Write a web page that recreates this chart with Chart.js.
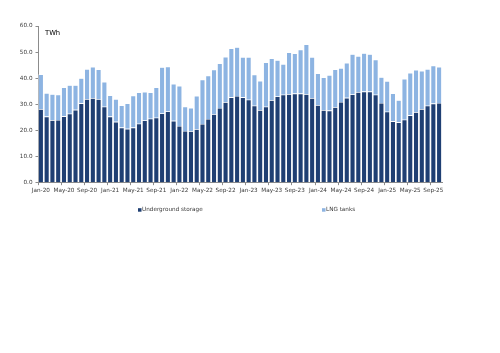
<!DOCTYPE html>
<html><head><meta charset="utf-8">
<script src="https://cdn.jsdelivr.net/npm/chart.js@4.4.1/dist/chart.umd.min.js"></script>
<style>html,body{margin:0;padding:0;background:#fff;}#wrap{position:relative;width:500px;height:353px;}</style>
</head><body><div id="wrap"><canvas id="c"></canvas></div>
<script>
const monthNames = ['Jan','Feb','Mar','Apr','May','Jun','Jul','Aug','Sep','Oct','Nov','Dec'];
const years = ['20','21','22','23','24','25'];
const categories = [];
years.forEach(y => monthNames.forEach(m => categories.push(m + '-' + y)));
categories.length = 70; // Jan-20 .. Oct-25

const seriesNames = ['Underground storage', 'LNG tanks'];
const yTicks = [0, 10, 20, 30, 40, 50, 60];

const underground = [
  28.2, 25.3, 23.9, 24.0, 25.4, 26.4, 27.9, 30.4, 32.0, 32.4, 32.0, 29.1,
  25.3, 23.3, 21.1, 20.6, 21.1, 22.6, 23.8, 24.5, 24.9, 26.5, 27.3, 23.7,
  21.7, 19.8, 19.7, 20.5, 22.5, 24.4, 26.2, 28.6, 30.8, 32.7, 33.2, 32.7,
  31.8, 29.5, 27.8, 29.1, 31.6, 33.0, 33.7, 33.9, 34.1, 34.1, 33.9, 32.4,
  29.7, 27.8, 27.6, 28.9, 30.9, 32.5, 33.8, 34.7, 34.9, 34.9, 33.7, 30.5,
  27.2, 23.5, 23.1, 24.1, 25.8, 27.0, 28.2, 29.5, 30.3, 30.5
];
const lngTanks = [
  13.3, 9.0, 10.0, 9.7, 11.1, 10.9, 9.4, 9.6, 11.5, 11.9, 11.4, 9.5,
  8.1, 8.7, 8.5, 9.8, 12.2, 12.0, 11.0, 10.1, 11.6, 17.7, 17.1, 14.1,
  15.4, 9.3, 8.9, 12.7, 17.0, 16.6, 17.1, 17.1, 17.4, 18.7, 18.7, 15.4,
  16.3, 11.9, 11.2, 17.0, 16.0, 13.9, 11.7, 16.0, 15.4, 16.8, 19.1, 15.7,
  12.1, 12.5, 13.6, 14.5, 13.0, 13.4, 15.4, 13.8, 14.7, 14.3, 13.4, 9.9,
  11.7, 10.7, 8.5, 15.6, 16.2, 16.2, 14.6, 14.0, 14.5, 13.8
];

const FONT = 'DejaVu Sans';
const TXT = '#3a3a3a';
const AXIS = '#8c8c8c';

const extras = {
  id: 'extras',
  afterDraw(chart) {
    const ctx = chart.ctx, a = chart.chartArea;
    ctx.save();
    ctx.fillStyle = '#000';
    ctx.font = '6.8px "' + FONT + '"';
    ctx.textBaseline = 'middle';
    ctx.textAlign = 'left';
    ctx.fillText('TWh', a.left + 7, a.top + 7);
    // legend
    const xs = [138, 322];
    const y = 210;
    ctx.font = '5.7px "' + FONT + '"';
    chart.data.datasets.forEach((ds, i) => {
      ctx.fillStyle = ds.backgroundColor;
      ctx.fillRect(xs[i], y - 1.8, 3.5, 3.5);
      ctx.fillStyle = TXT;
      ctx.fillText(ds.label, xs[i] + 4, y);
    });
    ctx.restore();
  }
};

new Chart(document.getElementById('c'), {
  type: 'bar',
  data: {
    labels: categories,
    datasets: [
      { label: seriesNames[0], data: underground, backgroundColor: '#1f3f73', borderColor: 'rgba(255,255,255,0.85)', borderWidth: 0.6, barPercentage: 1, categoryPercentage: 0.92 },
      { label: seriesNames[1], data: lngTanks, backgroundColor: '#8db4e2', borderColor: 'rgba(255,255,255,0.85)', borderWidth: 0.6, barPercentage: 1, categoryPercentage: 0.92 }
    ]
  },
  options: {
    responsive: true, maintainAspectRatio: false, animation: false,
    layout: { padding: { left: 0, right: 58, top: 26, bottom: 157 } },
    plugins: { legend: { display: false }, tooltip: { enabled: false } },
    scales: {
      x: {
        stacked: true,
        grid: { display: true, drawOnChartArea: false, drawTicks: true, tickLength: 2.5, offset: true,
                tickColor: c => (c.index % 4 === 0 ? AXIS : 'rgba(0,0,0,0)') },
        border: { color: AXIS },
        ticks: { autoSkip: false, maxRotation: 0, minRotation: 0, padding: 2, color: TXT,
                 font: { family: FONT, size: 5.7 },
                 callback: (v, i) => (i % 4 === 0 ? categories[i] : '') }
      },
      y: {
        stacked: true, min: yTicks[0], max: yTicks[yTicks.length - 1],
        afterFit: s => { s.width = 38; },
        afterBuildTicks: s => { s.ticks = yTicks.map(v => ({ value: v })); },
        grid: { drawOnChartArea: false, drawTicks: true, tickLength: 2.5, color: AXIS },
        border: { color: AXIS },
        ticks: { padding: 3, color: TXT, font: { family: FONT, size: 5.7 }, callback: v => Number(v).toFixed(1) }
      }
    }
  },
  plugins: [extras]
});
</script></body></html>
